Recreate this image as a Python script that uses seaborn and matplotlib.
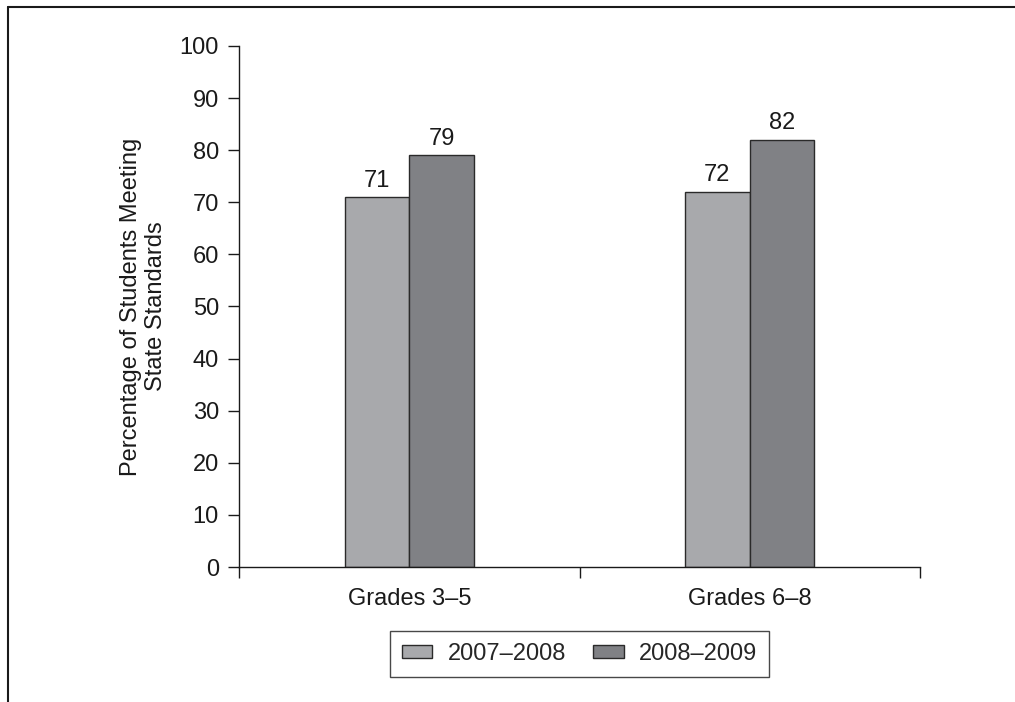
import matplotlib
matplotlib.use("Agg")
import matplotlib.pyplot as plt
from matplotlib.lines import Line2D
import seaborn as sns
import pandas as pd

grades = ["Grades 3\u20135", "Grades 6\u20138"]
years = ["2007\u20132008", "2008\u20132009"]
pct_2007_2008 = [71, 72]
pct_2008_2009 = [79, 82]
y_ticks = [0, 10, 20, 30, 40, 50, 60, 70, 80, 90, 100]

df = pd.DataFrame({
    "grade": grades * 2,
    "year": [years[0]] * len(grades) + [years[1]] * len(grades),
    "pct": pct_2007_2008 + pct_2008_2009,
})

FS = 17
INK = "#1a1a1a"

sns.set_theme(style="ticks")
plt.rcParams["font.family"] = ["Liberation Sans", "DejaVu Sans"]
plt.rcParams["font.size"] = FS

fig = plt.figure(figsize=(10.15, 7.02), dpi=100)
ax = fig.add_axes([0.2355, 0.1923, 0.9064 - 0.2355, 0.9345 - 0.1923])

palette = {years[0]: "#a8a9ac", years[1]: "#808185"}
sns.barplot(data=df, x="grade", y="pct", hue="year", order=grades,
            hue_order=years, palette=palette, width=0.38, gap=0,
            edgecolor="#2a2a2a", linewidth=1.0, saturation=1,
            legend=False, ax=ax)

# value labels above each bar
for container in ax.containers:
    ax.bar_label(container, fmt="%d", padding=4, fontsize=FS, color=INK)

ax.set_xlim(-0.5, 1.5)
ax.set_ylim(0, 100)
ax.set_yticks(y_ticks)
ax.set_xlabel("")
ax.set_ylabel("Percentage of Students Meeting\nState Standards", fontsize=FS,
              labelpad=9, color=INK, linespacing=1.15)

# category boundaries carry the x tick marks
ax.set_xticks([-0.5, 0.5, 1.5], minor=True)
ax.tick_params(axis="x", which="major", length=0, pad=15, labelsize=FS,
               colors=INK)
ax.tick_params(axis="x", which="minor", length=8, width=1.0, direction="out",
               color=INK)
ax.tick_params(axis="y", length=8, width=1.0, direction="out", pad=6.5,
               labelsize=FS, colors=INK)

for side in ("top", "right"):
    ax.spines[side].set_visible(False)
for side in ("left", "bottom"):
    ax.spines[side].set_linewidth(1.0)
    ax.spines[side].set_color(INK)

handles = [plt.Rectangle((0, 0), 1, 1, facecolor=palette[y], edgecolor="#2a2a2a",
                         linewidth=1.0) for y in years]
leg = fig.legend(handles, years, loc="center", ncol=2,
                 bbox_to_anchor=(579.5 / 1015, 1 - 654 / 702),
                 frameon=True, fancybox=False, edgecolor=INK,
                 fontsize=FS, handlelength=1.3, handleheight=0.5,
                 handletextpad=0.65, columnspacing=1.15, borderpad=0.5)
leg.get_frame().set_linewidth(1.0)

# partial outer frame along the top and left edges
x0 = 8 / 1015
y0 = 1 - 7 / 702
fig.add_artist(Line2D([x0, 1.0], [y0, y0], transform=fig.transFigure,
                      color=INK, linewidth=1.5))
fig.add_artist(Line2D([x0, x0], [0.0, y0], transform=fig.transFigure,
                      color=INK, linewidth=1.5))

fig.savefig("out.png", dpi=100, facecolor="white")
